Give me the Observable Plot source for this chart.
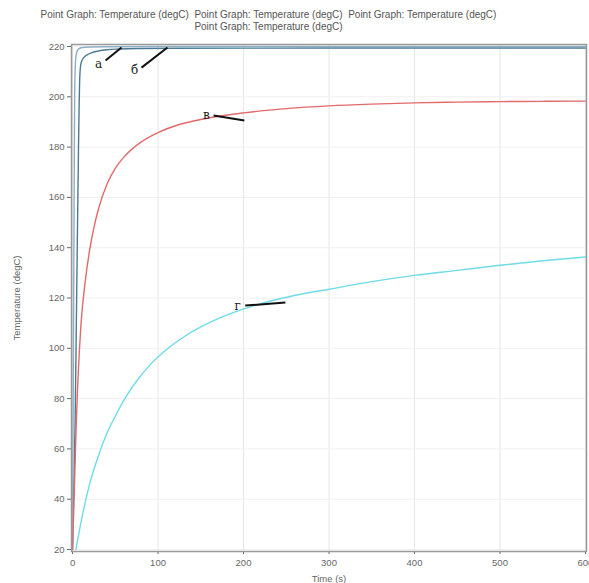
<!DOCTYPE html>
<html><head><meta charset="utf-8">
<script src="https://cdn.jsdelivr.net/npm/d3@7"></script>
<script src="https://cdn.jsdelivr.net/npm/@observablehq/plot@0.6"></script>
<style>
body{margin:0;background:#fff;font-family:"Liberation Sans",Arial,sans-serif;}
#title{width:589px;height:36px;box-sizing:border-box;padding-top:9px;padding-right:52px;text-align:center;font-size:10px;line-height:11.5px;color:#555;}
</style></head>
<body>
<div id="title"></div>
<div id="chart"></div>
<script>
const titles = ["Point Graph: Temperature (degC)","Point Graph: Temperature (degC)","Point Graph: Temperature (degC)","Point Graph: Temperature (degC)"];
const xLabel = "Time (s)";
const yLabel = "Temperature (degC)";
const xTicks = [0,100,200,300,400,500,600];
const yTicks = [20,40,60,80,100,120,140,160,180,200,220];

const seriesNames = ["а","б","в","г"];
const seriesColors = ["#4b7b92","#8eaec4","#e26a6a","#6fdbe8"];

const tA = [0,3,5,7,8.5,10,13,17,22,30,40,55,80,120,200,300,400,500,600];
const vA = [20,70,125,180,208,213.5,215.5,216.7,217.5,218.2,218.7,219,219.2,219.3,219.35,219.4,219.4,219.4,219.4];

const tB = [0,1,2,2.5,3,4,6,10,20,40,100,200,300,400,500,600];
const vB = [20,95,170,200,210,216,218.6,219.5,219.8,219.9,220,220,220,220,220,220];

const tV = [0,2,4,6,8,10,15,20,25,30,40,50,60,80,100,125,150,200,250,300,350,400,450,500,550,600];
const vV = [20,42,66,85,99,110,127,139,148,155,165,171.5,176,182,185.8,189,191,193.6,195.3,196.4,197.1,197.6,197.9,198.1,198.2,198.3];

const tG = [4,10,15,20,30,40,50,63,75,91,110,130,150,175,208,240,267,300,350,400,450,500,550,600];
const vG = [20,31,39,46,57,66,73,81,87,93.5,99.5,104.5,108.5,112.5,116.5,119.5,121.5,123.5,126.5,129,131,133,134.8,136.3];

const labelT = [30.4,72.5,156.7,193];
const labelV = [212.8,210.5,192.6,116.6];
const arrowT1 = [38.6,80.7,165,202];
const arrowV1 = [214.4,211.6,192.6,117];
const arrowT2 = [57.3,111,201,249];
const arrowV2 = [219.6,219.6,190.6,118.2];

document.getElementById("title").innerHTML =
  titles.slice(0,3).join("&nbsp;&nbsp;") + "<br>" + titles[3];

const seriesT = [tA,tB,tV,tG];
const seriesV = [vA,vB,vV,vG];
const data = [];
seriesNames.forEach((s,i)=>seriesT[i].forEach((t,j)=>data.push({series:s,t,T:seriesV[i][j]})));
const labels = seriesNames.map((s,i)=>({s,t:labelT[i],T:labelV[i],t1:arrowT1[i],T1:arrowV1[i],t2:arrowT2[i],T2:arrowV2[i]}));

const chart = Plot.plot({
  width:589, height:547,
  marginTop:8, marginBottom:32, marginLeft:71, marginRight:3,
  style:{fontFamily:"Liberation Sans, Arial, sans-serif", fontSize:"9.5px", color:"#666", background:"#fff"},
  x:{domain:[-1.2,601.2], ticks:xTicks, label:xLabel, labelAnchor:"center", labelOffset:30, tickSize:3, tickPadding:5, labelArrow:"none"},
  y:{domain:[19.2,220.8], ticks:yTicks, label:yLabel, labelAnchor:"center", labelOffset:58, tickSize:4, tickPadding:3, labelArrow:"none"},
  color:{domain:seriesNames, range:seriesColors},
  marks:[
    Plot.gridX(xTicks,{stroke:"#e6e6e6", strokeOpacity:1}),
    Plot.gridY(yTicks,{stroke:"#f0f0f0", strokeOpacity:1}),
    Plot.line(data,{x:"t",y:"T",z:"series",stroke:"series",strokeWidth:1.4,curve:"monotone-x"}),
    Plot.link(labels,{x1:"t1",y1:"T1",x2:"t2",y2:"T2",stroke:"#111",strokeWidth:2}),
    Plot.text(labels,{x:"t",y:"T",text:"s",fontSize:12,fill:"#222",fontFamily:"DejaVu Serif, serif"}),
    Plot.frame({stroke:"#999",strokeWidth:1.5})
  ]
});
document.getElementById("chart").appendChild(chart);
</script>
</body></html>
